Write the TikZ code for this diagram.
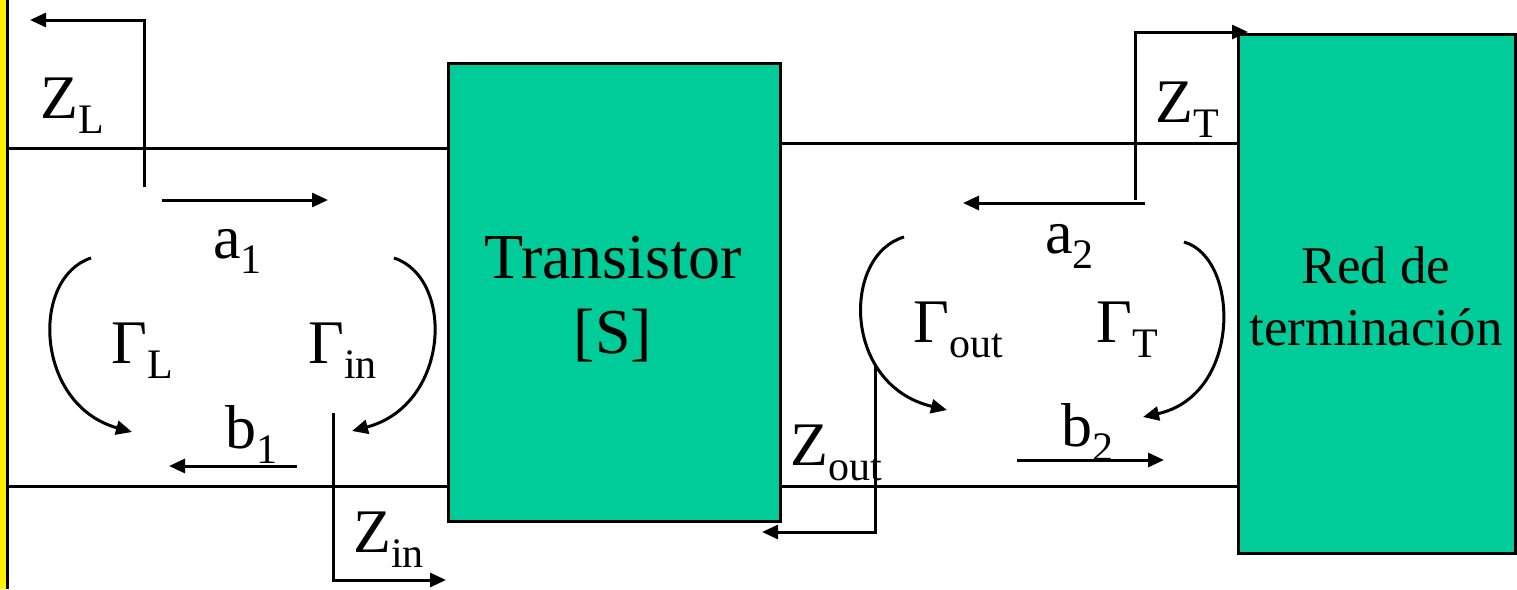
\documentclass[tikz,border=0pt]{standalone}
\usepackage{fontspec}
\setmainfont{Liberation Serif}
\usetikzlibrary{arrows.meta, positioning, calc}

\definecolor{boxgreen}{HTML}{00CC99}
\newcommand{\lowsub}[1]{\raisebox{-15pt}{\fontsize{42}{48}\selectfont #1}}

\begin{document}
\begin{tikzpicture}[
		x=1pt, y=-1pt,
		font=\fontsize{62}{72}\selectfont,
		% Style for the transmission lines
		wire/.style={line width=3pt},
		% Connector style
		arrow/.style={wire, -{Triangle[length=16pt, width=14pt]}},
		% Style for the two blocks
		block/.style={draw, line width=3pt, fill=boxgreen, anchor=north west, inner sep=0pt},
		% Style for the labels (placed by their baseline)
		lbl/.style={anchor=base west, inner sep=0pt},
		boxtext/.style={anchor=base, inner sep=0pt}
		]
		\useasboundingbox (0,0) rectangle (1517,589);
		
		% --- 1. Left margin bar ---
		\fill[yellow] (0,0) rectangle (6,589);
		\draw[wire] (7,0) -- (7,589);
		
		% --- 2. Blocks ---
		\node[block, minimum width=332pt, minimum height=458pt] (trans) at (447,62) {};
		\node[boxtext, font=\fontsize{64}{72}\selectfont] (transtxt) at (613,278) {Transistor};
		\node[boxtext, font=\fontsize{64}{72}\selectfont] (stxt) at (613,353) {[S]};
		
		\node[block, minimum width=277pt, minimum height=519pt] (red) at (1237,33) {};
		\node[boxtext, font=\fontsize{53}{62}\selectfont] (redtxt) at (1376,283) {Red de};
		\node[boxtext, font=\fontsize{53}{62}\selectfont] (termtxt) at (1376,345) {terminación};
		
		% --- 3. Lines ---
		\coordinate (lt) at (8,148);
		\coordinate (lb) at (8,486);
		\coordinate (mt) at (779,143);
		\coordinate (mb) at (779,486);
		\draw[wire] (lt) -- (lt -| trans.west);
		\draw[wire] (lb) -- (lb -| trans.west);
		\draw[wire] (mt) -- (mt -| red.west);
		\draw[wire] (mb) -- (mb -| red.west);
		
		% --- 4. Input side ---
		\node[lbl] (zl) at (40,118) {Z\lowsub{L}};
		\node[lbl] (a1) at (213,258) {a\lowsub{1}};
		\node[lbl] (gl) at (111,363) {Γ\lowsub{L}};
		\node[lbl] (gin) at (308,363) {Γ\lowsub{in}};
		\node[lbl] (b1) at (225,448) {b\lowsub{1}};
		\node[lbl] (zin) at (353,552) {Z\lowsub{in}};
		
		\coordinate (zl-s) at (144,187);
		\coordinate (zl-k) at (144,20);
		\coordinate (zl-e) at (30,20);
		\draw[arrow] (zl-s) -- (zl-k) -- (zl-e);
		
		\coordinate (a1-s) at (162,200);
		\coordinate (a1-e) at (328,200);
		\draw[arrow] (a1-s) -- (a1-e);
		
		\coordinate (b1-s) at (297,466);
		\coordinate (b1-e) at (169,466);
		\draw[arrow] (b1-s) -- (b1-e);
		
		\coordinate (zin-s) at (333,413);
		\coordinate (zin-k) at (333,580);
		\coordinate (zin-e) at (446,580);
		\draw[arrow] (zin-s) -- (zin-k) -- (zin-e);
		
		\coordinate (gl-s) at (91,258);
		\coordinate (gl-e) at (132,432);
		\draw[arrow] (gl-s) .. controls (30,278) and (35,405) .. (gl-e);
		\coordinate (gin-s) at (394,258);
		\coordinate (gin-e) at (352,431);
		\draw[arrow] (gin-s) .. controls (455,278) and (450,405) .. (gin-e);
		
		% --- 5. Output side ---
		\node[lbl] (zout) at (790,465) {Z\lowsub{out}};
		\node[lbl] (a2) at (1045,253) {a\lowsub{2}};
		\node[lbl] (gout) at (913,342) {Γ\lowsub{out}};
		\node[lbl] (gt) at (1096,342) {Γ\lowsub{T}};
		\node[lbl] (b2) at (1061,446) {b\lowsub{2}};
		\node[lbl] (zt) at (1155,122) {Z\lowsub{T}};
		
		\coordinate (zout-s) at (875,365);
		\coordinate (zout-k) at (875,532);
		\coordinate (zout-e) at (762,532);
		\draw[arrow] (zout-s) -- (zout-k) -- (zout-e);
		
		\coordinate (a2-s) at (1145,203);
		\coordinate (a2-e) at (963,203);
		\draw[arrow] (a2-s) -- (a2-e);
		
		\coordinate (b2-s) at (1017,460);
		\coordinate (b2-e) at (1164,460);
		\draw[arrow] (b2-s) -- (b2-e);
		
		\coordinate (zt-s) at (1135,200);
		\coordinate (zt-k) at (1135,32);
		\coordinate (zt-e) at (1248,32);
		\draw[arrow] (zt-s) -- (zt-k) -- (zt-e);
		
		\coordinate (gout-s) at (904,237);
		\coordinate (gout-e) at (947,410);
		\draw[arrow] (gout-s) .. controls (842,255) and (842,385) .. (gout-e);
		\coordinate (gt-s) at (1184,242);
		\coordinate (gt-e) at (1143,417);
		\draw[arrow] (gt-s) .. controls (1240,258) and (1242,395) .. (gt-e);
		
	\end{tikzpicture}
\end{document}
